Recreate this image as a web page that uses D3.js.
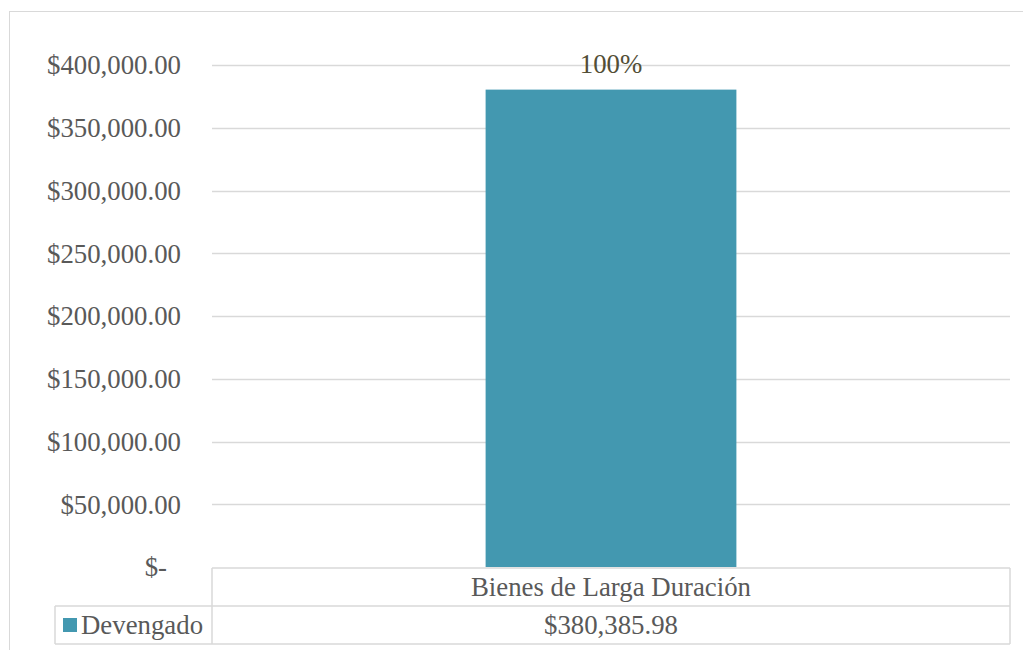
<!DOCTYPE html>
<html>
<head>
<meta charset="utf-8">
<script src="https://cdn.jsdelivr.net/npm/d3@7"></script>
<style>
  body { margin: 0; background: #fff; }
  svg text { font-family: "Liberation Serif", "DejaVu Serif", serif; }
</style>
</head>
<body>
<div id="chart"></div>
<script>
// Data
const categories = ["Bienes de Larga Duración"];
const seriesName = "Devengado";
const devengado = [380385.98];
const percentLabels = ["100%"];
const yTicks = [0, 50000, 100000, 150000, 200000, 250000, 300000, 350000, 400000];

const W = 1023, H = 650;
const plot = { left: 212, right: 1010, top: 65, bottom: 567 };
const rowH = 38;
const fontSize = 26.8;
const barColor = "#4398b0";
const gridColor = "#d9d9d9";
const textColor = "#595959";

const svg = d3.select("#chart").append("svg")
  .attr("width", W).attr("height", H);

// Outer chart border
svg.append("rect")
  .attr("x", 9.5).attr("y", 11.5)
  .attr("width", 1040).attr("height", 700)
  .attr("fill", "none").attr("stroke", gridColor);

const x = d3.scaleBand().domain(categories).range([plot.left, plot.right]).paddingInner(0.6857).paddingOuter(0.3429);
const y = d3.scaleLinear().domain([0, 400000]).range([plot.bottom, plot.top]);

const fmt = d => d === 0 ? "$-" : "$" + d3.format(",.2f")(d);

// Gridlines
svg.append("g").selectAll("line")
  .data(yTicks.filter(d => d > 0))
  .join("line")
  .attr("x1", plot.left).attr("x2", plot.right)
  .attr("y1", d => Math.round(y(d)) + 0.5).attr("y2", d => Math.round(y(d)) + 0.5)
  .attr("stroke", gridColor).attr("stroke-width", 1.5);

// Y axis labels
svg.append("g").selectAll("text")
  .data(yTicks)
  .join("text")
  .attr("x", d => d === 0 ? 167 : 181)
  .attr("y", d => y(d))
  .attr("dy", "0.35em")
  .attr("text-anchor", "end")
  .attr("fill", textColor)
  .attr("font-size", fontSize)
  .text(fmt);

// Bars
svg.append("g").selectAll("rect")
  .data(devengado)
  .join("rect")
  .attr("x", (d, i) => x(categories[i]))
  .attr("width", x.bandwidth())
  .attr("y", d => y(d))
  .attr("height", d => y(0) - y(d))
  .attr("fill", barColor);

// Percent labels
svg.append("g").selectAll("text")
  .data(devengado)
  .join("text")
  .attr("x", (d, i) => x(categories[i]) + x.bandwidth() / 2)
  .attr("y", d => y(d) - 17)
  .attr("text-anchor", "middle")
  .attr("fill", "#524e36")
  .attr("font-size", fontSize)
  .text((d, i) => percentLabels[i]);

// Data table
const table = svg.append("g").attr("fill", "none").attr("stroke", gridColor).attr("stroke-width", 1.5);
const tTop = plot.bottom + 1, tMid = tTop + rowH, tBot = tMid + rowH;
table.append("line").attr("x1", plot.left).attr("x2", plot.right).attr("y1", tTop).attr("y2", tTop);
table.append("line").attr("x1", 55).attr("x2", plot.right).attr("y1", tMid).attr("y2", tMid);
table.append("line").attr("x1", 55).attr("x2", plot.right).attr("y1", tBot).attr("y2", tBot);
table.append("line").attr("x1", 55).attr("x2", 55).attr("y1", tMid).attr("y2", tBot);
table.append("line").attr("x1", plot.left).attr("x2", plot.left).attr("y1", tTop).attr("y2", tBot);
table.append("line").attr("x1", plot.right).attr("x2", plot.right).attr("y1", tTop).attr("y2", tBot);

svg.append("g").selectAll("text")
  .data(categories)
  .join("text")
  .attr("x", d => x(d) + x.bandwidth() / 2)
  .attr("y", tTop + rowH / 2)
  .attr("dy", "0.35em")
  .attr("text-anchor", "middle")
  .attr("fill", textColor)
  .attr("font-size", fontSize)
  .text(d => d);

svg.append("g").selectAll("text")
  .data(devengado)
  .join("text")
  .attr("x", (d, i) => x(categories[i]) + x.bandwidth() / 2)
  .attr("y", tMid + rowH / 2)
  .attr("dy", "0.35em")
  .attr("text-anchor", "middle")
  .attr("fill", textColor)
  .attr("font-size", fontSize)
  .text(d => "$" + d3.format(",.2f")(d));

// Legend key in table
svg.append("rect")
  .attr("x", 63).attr("y", tMid + 12)
  .attr("width", 14).attr("height", 14)
  .attr("fill", barColor);
svg.append("text")
  .attr("x", 81).attr("y", tMid + rowH / 2)
  .attr("dy", "0.35em")
  .attr("fill", textColor)
  .attr("font-size", fontSize)
  .text(seriesName);
</script>
</body>
</html>
